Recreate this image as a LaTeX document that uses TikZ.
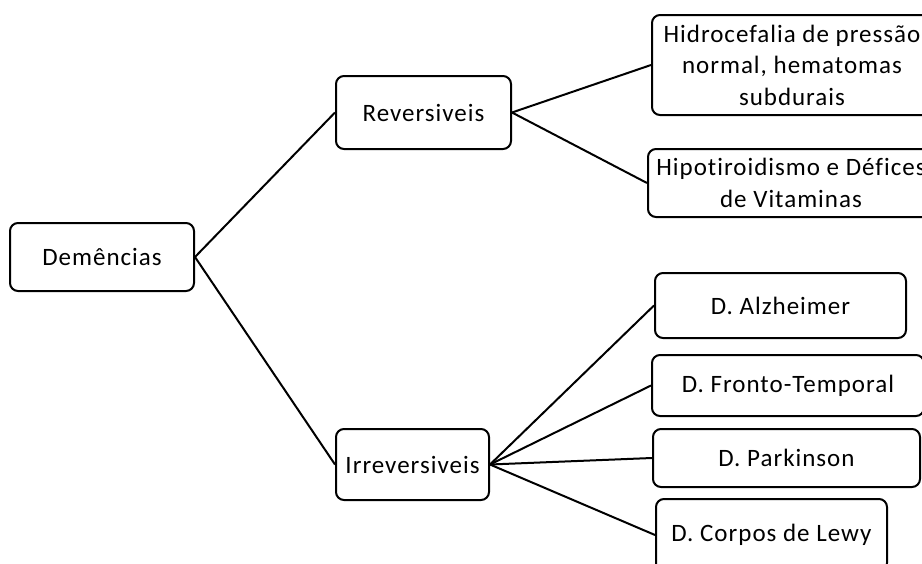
\documentclass[tikz,border=0pt]{standalone}
\usepackage{fontspec}
\setmainfont[LetterSpace=4,Ligatures=NoCommon]{Carlito}
\begin{document}
\begin{tikzpicture}[x=1pt,y=-1pt,
  box/.style={draw,line width=2pt,rounded corners=8pt,align=center,inner sep=0pt,
    font=\fontsize{25}{31.5}\selectfont},
  link/.style={line width=2pt}]
\useasboundingbox (0,0) rectangle (922,563);
\clip (0,0) rectangle (922,563);
\node[box,minimum width=184pt,minimum height=68pt] (dem) at (102,257) {Demências};
\node[box,minimum width=175pt,minimum height=73pt] (rev) at (423.5,112.5) {Reversiveis};
\node[box,minimum width=153pt,minimum height=71pt] (irr) at (412.5,464.5) {Irreversiveis};
\node[box,minimum width=280pt,minimum height=100pt] (hid) at (792,65) {Hidrocefalia de pressão\\normal, hematomas\\subdurais};
\node[box,minimum width=286pt,minimum height=68pt] (hip) at (791,183) {Hipotiroidismo e Défices\\de Vitaminas};
\node[box,minimum width=251pt,minimum height=65pt] (alz) at (780.5,305.5) {D. Alzheimer};
\node[box,minimum width=272pt,minimum height=61pt] (fro) at (788,385.5) {D. Fronto-Temporal};
\node[box,minimum width=267pt,minimum height=58pt] (par) at (786.5,458) {D. Parkinson};
\node[box,minimum width=231pt,minimum height=72pt] (cor) at (771.5,535) {D. Corpos de Lewy};
\draw[link] (dem.east) -- (rev.west);
\draw[link] (dem.east) -- (irr.west);
\draw[link] (rev.east) -- (hid.west);
\draw[link] (rev.east) -- (hip.west);
\draw[link] (irr.east) -- (alz.west);
\draw[link] (irr.east) -- (fro.west);
\draw[link] (irr.east) -- (par.west);
\draw[link] (irr.east) -- (cor.west);
\end{tikzpicture}
\end{document}
